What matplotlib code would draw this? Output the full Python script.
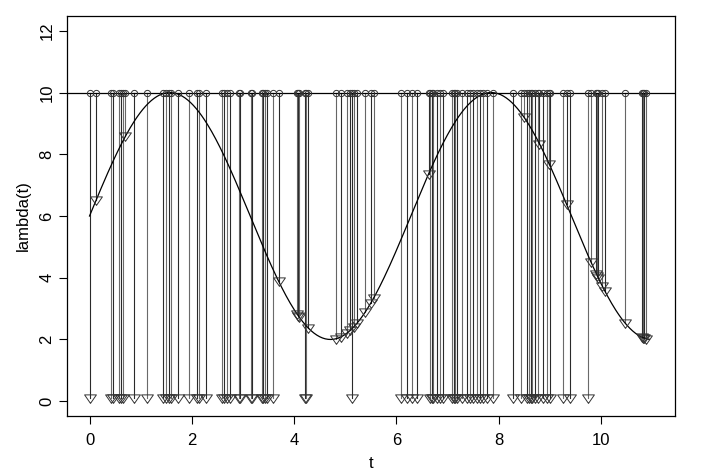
import numpy as np
import matplotlib
matplotlib.use("Agg")
from matplotlib import pyplot as plt

plt.rcParams['font.family'] = ['Liberation Sans', 'DejaVu Sans']

# candidate times whose segment stops on the intensity curve
curve_t = [0.13, 0.70, 3.70, 4.06, 4.08, 4.10, 4.28, 4.83, 4.92, 5.04, 5.10,
           5.17, 5.23, 5.39, 5.50, 5.56, 6.63, 8.50, 8.80, 8.99, 9.33, 9.81,
           9.91, 9.93, 9.95, 10.03, 10.08, 10.48, 10.80, 10.82, 10.84, 10.88]

# candidate times whose segment goes down to the bottom
bottom_t = [0.01, 0.42, 0.45, 0.58, 0.62, 0.66, 0.87, 1.13, 1.43, 1.49, 1.55,
            1.60, 1.73, 1.95, 2.10, 2.14, 2.27, 2.59, 2.63, 2.68, 2.74, 2.93,
            2.95, 3.16, 3.18, 3.38, 3.40, 3.43, 3.47, 3.59, 4.21, 4.23, 5.13,
            6.09, 6.20, 6.30, 6.40, 6.65, 6.70, 6.72, 6.79, 6.85, 6.91, 7.08,
            7.12, 7.15, 7.18, 7.28, 7.38, 7.44, 7.50, 7.57, 7.63, 7.69, 7.77,
            7.89, 8.28, 8.44, 8.55, 8.60, 8.63, 8.66, 8.71, 8.77, 8.86, 8.94,
            9.00, 9.25, 9.40, 9.74]

lam_max = 10
bottom_y = 0.1
t_end = 10.95

def lam(t):
    return 6 + 4 * np.sin(t)

# open down triangle, point sits a bit below its middle (like R pch=6)
tri = [(0, -0.75), (-0.9, 0.55), (0.9, 0.55), (0, -0.75)]

fig = plt.figure(figsize=(7.04, 4.76), dpi=100)
ax = fig.add_axes([0.0952, 0.126, 0.8636, 0.8404])

all_t = sorted(curve_t + bottom_t)
curve_t = np.array(curve_t)
bottom_t = np.array(bottom_t)

# vertical segments
for i, t in enumerate(curve_t):
    c = '#666666' if i % 2 else '#2a2a2a'
    ax.plot([t, t], [lam_max, lam(t)], color=c, lw=0.8, zorder=2)
for i, t in enumerate(bottom_t):
    c = '#6a6a6a' if i % 2 else '#2a2a2a'
    ax.plot([t, t], [lam_max, bottom_y], color=c, lw=0.8, zorder=2)

# intensity curve and bound
tt = np.linspace(0, t_end, 400)
ax.plot(tt, lam(tt), color='black', lw=0.9, zorder=3)
ax.axhline(lam_max, color='black', lw=0.9, zorder=3)

# markers
ax.plot(all_t, [lam_max] * len(all_t), 'o', ms=4.5, mfc='none', mec='#333333',
        mew=0.7, zorder=4)
ax.plot(curve_t, lam(curve_t), ls='none', marker=tri, ms=8.5, mfc='none',
        mec='#333333', mew=0.7, zorder=4)
ax.plot(bottom_t, [bottom_y] * len(bottom_t), ls='none', marker=tri, ms=8.5,
        mfc='none', mec='#333333', mew=0.7, zorder=4)

ax.set_xlim(-0.44, 11.45)
ax.set_ylim(-0.48, 12.48)
ax.set_xticks(range(0, 11, 2))
ax.set_yticks(range(0, 13, 2))
ax.tick_params(axis='both', direction='out', length=6, width=0.8,
               labelsize=12, color='black')
ax.tick_params(axis='x', pad=6)
ax.tick_params(axis='y', pad=3)
for lab in ax.get_yticklabels():
    lab.set_rotation(90)
    lab.set_va('center')
for s in ax.spines.values():
    s.set_linewidth(0.9)

ax.set_xlabel('t', fontsize=12, labelpad=6)
ax.set_ylabel('lambda(t)', fontsize=12, labelpad=6)

fig.savefig('out.png', dpi=100)
